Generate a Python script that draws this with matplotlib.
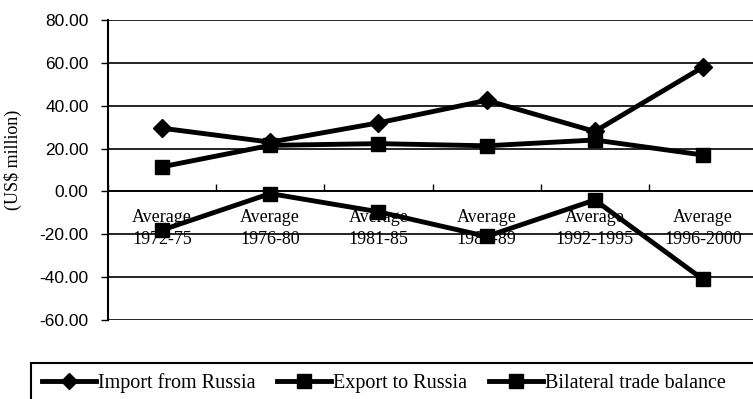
import matplotlib
matplotlib.use("Agg")
import matplotlib.pyplot as plt
from matplotlib.patches import Rectangle
from matplotlib.lines import Line2D

periods = ["Average\n1972-75", "Average\n1976-80", "Average\n1981-85",
           "Average\n1986-89", "Average\n1992-1995", "Average\n1996-2000"]
imports = [29.5, 23.0, 32.0, 42.5, 28.0, 58.0]
exports = [11.5, 21.5, 22.3, 21.3, 24.0, 17.0]
balance = [-18.0, -1.0, -9.5, -21.0, -4.0, -41.0]
yticks = [-60, -40, -20, 0, 20, 40, 60, 80]
labels = ["Import from Russia", "Export to Russia", "Bilateral trade balance"]

SERIF = ["Liberation Serif", "DejaVu Serif"]
SANS = ["Liberation Sans", "DejaVu Sans"]

fig = plt.figure(figsize=(7.53, 3.99), dpi=100)
# plot area runs past the right edge of the picture
ax = fig.add_axes([108 / 753, 1 - 320 / 399, 649 / 753, 300 / 399])

x = list(range(len(periods)))
ax.plot(x, imports, color="black", lw=3.5, marker="D", ms=9, zorder=4)
ax.plot(x, exports, color="black", lw=3.5, marker="s", ms=10, zorder=4)
ax.plot(x, balance, color="black", lw=3.5, marker="s", ms=10, zorder=4)

ax.set_xlim(-0.5, 5.5)
ax.set_ylim(-60, 80)
ax.set_yticks(yticks)
ax.set_yticklabels(["%.2f" % v for v in yticks], family=SANS, fontsize=12.5)
ax.yaxis.grid(True, color="black", lw=1.2)
ax.set_axisbelow(True)

# category axis sits on the zero line
ax.spines["bottom"].set_position(("data", 0))
ax.spines["bottom"].set_linewidth(1.2)
ax.spines["top"].set_visible(False)
ax.spines["right"].set_visible(False)
ax.spines["left"].set_linewidth(1.5)
ax.set_xticks(x)
ax.set_xticklabels(periods, family=SERIF, fontsize=13, linespacing=1.35)
ax.set_xticks([i + 0.5 for i in range(-1, 6)], minor=True)
ax.tick_params(axis="x", which="major", length=0, pad=13)
ax.tick_params(axis="x", which="minor", direction="in", length=5, width=1)
ax.tick_params(axis="y", length=5, width=1, pad=9)

fig.text(13 / 753, 1 - 160 / 399, "(US$ million)", rotation=90,
         ha="center", va="center", family=SERIF, fontsize=13)

# legend box running off the bottom/right edge
fig.patches.append(Rectangle((31 / 753, -0.1), 1.0, 0.1 + 1 - 363 / 399,
                             transform=fig.transFigure, fill=False,
                             edgecolor="black", lw=1.5))
handles = [
    Line2D([], [], color="black", lw=3.5, marker="D", ms=8),
    Line2D([], [], color="black", lw=3.5, marker="s", ms=10),
    Line2D([], [], color="black", lw=3.5, marker="s", ms=10),
]
fig.legend(handles, labels, loc="center left", bbox_to_anchor=(42 / 753, 1 - 383 / 399),
           ncol=3, frameon=False, prop={"family": SERIF, "size": 14.5},
           handlelength=2.7, handletextpad=0.1, columnspacing=1.05,
           borderpad=0, borderaxespad=0)

fig.savefig("out.png", dpi=100)
